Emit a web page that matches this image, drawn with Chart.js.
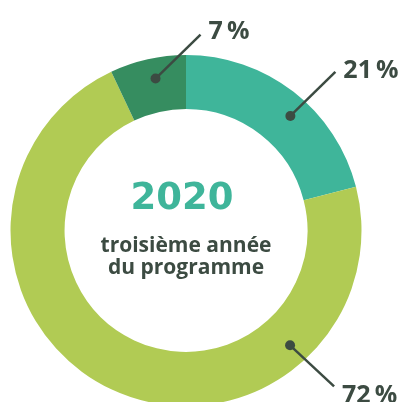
<!DOCTYPE html>
<html>
<head>
<meta charset="utf-8">
<script src="https://cdn.jsdelivr.net/npm/chart.js@4"></script>
<style>
  html, body { margin: 0; padding: 0; background: #fff; }
  #wrap { width: 403px; height: 402px; }
</style>
</head>
<body>
<div id="wrap"><canvas id="donut" width="403" height="402"></canvas></div>
<script>
// données
const categories = ['21\u2009%', '72\u2009%', '7\u2009%'];
const values = [21, 72, 7];
const sliceColors = ['#3fb59a', '#b1cb54', '#368d60'];
const centerYear = '2020';
const centerLines = ['troisième année', 'du programme'];

// où poser le point sur chaque part (fraction de l'angle, fraction de l'épaisseur)
// et décalage du trait de rappel
const leaders = [
  { t: 0.56, r: 0.62, dx: 45, dy: -44, ty: 6 },
  { t: 0.24, r: 0.62, dx: 44, dy: 41, ty: 17 },
  { t: 0.55, r: 0.62, dx: 45, dy: -44, ty: 4 }
];

const ink = '#3c4b42';

const labelPlugin = {
  id: 'labelPlugin',
  afterDraw(chart) {
    const c = chart.ctx;
    const meta = chart.getDatasetMeta(0);
    const first = meta.data[0];
    const cx = first.x, cy = first.y;

    // texte central
    c.save();
    c.textAlign = 'center';
    c.textBaseline = 'alphabetic';
    c.fillStyle = sliceColors[0];
    c.font = 'bold 37px "DejaVu Sans"';
    c.fillText(centerYear, cx - 4, cy - 22);
    c.fillStyle = ink;
    c.font = '700 21px "Open Sans"';
    c.fillText(centerLines[0], cx, cy + 21.5);
    c.fillText(centerLines[1], cx, cy + 43.5);
    c.restore();

    // traits de rappel + pourcentages
    meta.data.forEach((arc, i) => {
      const p = arc.getProps(['startAngle', 'endAngle', 'innerRadius', 'outerRadius'], true);
      const L = leaders[i];
      const a = p.startAngle + (p.endAngle - p.startAngle) * L.t;
      const rr = p.innerRadius + (p.outerRadius - p.innerRadius) * L.r;
      const x0 = cx + Math.cos(a) * rr;
      const y0 = cy + Math.sin(a) * rr;
      const x1 = x0 + L.dx, y1 = y0 + L.dy;
      c.save();
      c.strokeStyle = ink;
      c.fillStyle = ink;
      c.lineWidth = 2.5;
      c.beginPath();
      c.moveTo(x0, y0);
      c.lineTo(x1, y1);
      c.stroke();
      c.beginPath();
      c.arc(x0, y0, 5, 0, Math.PI * 2);
      c.fill();
      c.font = '700 25px "Open Sans"';
      c.textAlign = 'left';
      c.textBaseline = 'alphabetic';
      c.fillText(categories[i], x1 + 8, y1 + L.ty);
      c.restore();
    });
  }
};

new Chart(document.getElementById('donut').getContext('2d'), {
  type: 'doughnut',
  data: {
    labels: categories,
    datasets: [{
      data: values,
      backgroundColor: sliceColors,
      borderWidth: 0
    }]
  },
  options: {
    responsive: false,
    animation: false,
    radius: 175.5,
    cutout: '69.2%',
    layout: { padding: { left: 10, right: 41, top: 59, bottom: 0 } },
    plugins: {
      legend: { display: false },
      tooltip: { enabled: false }
    }
  },
  plugins: [labelPlugin]
});
</script>
</body>
</html>
